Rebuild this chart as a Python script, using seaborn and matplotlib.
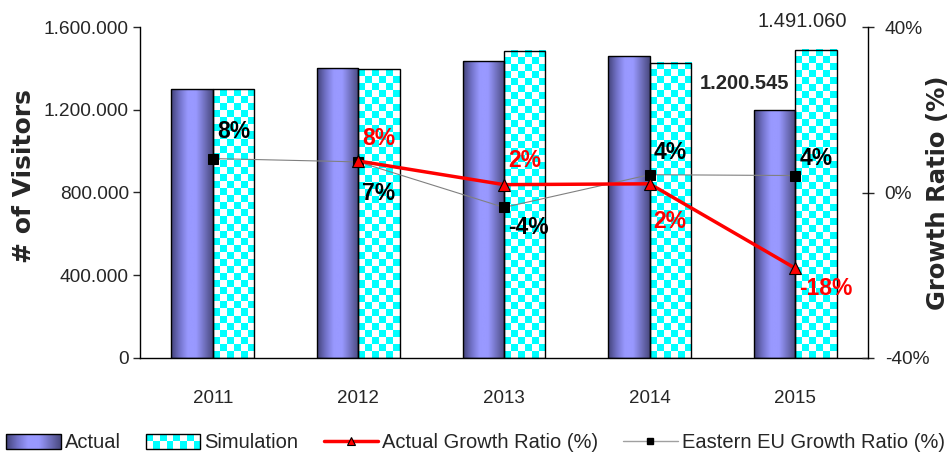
import numpy as np
import pandas as pd
import seaborn as sns
import matplotlib.pyplot as plt
from matplotlib.colors import LinearSegmentedColormap, ListedColormap
from matplotlib.lines import Line2D
from matplotlib.patches import Patch
from matplotlib.ticker import FuncFormatter

years = ['2011', '2012', '2013', '2014', '2015']
actual = [1301000, 1403000, 1435000, 1459000, 1200545]
simulation = [1300000, 1395000, 1485000, 1427000, 1491060]
actual_growth = [np.nan, 7.6, 1.9, 2.1, -18.3]
eastern_growth = [8.2, 7.4, -3.6, 4.3, 4.1]

# where the growth labels sit, pixels above (+) / below (-) the marker
actual_label_dy = [0, 23, 24, -38, -20]
eastern_label_dy = [27, -32, -20, 22, 17]

sns.set_style('white')
plt.rcParams['font.family'] = ['Liberation Sans', 'DejaVu Sans']
title_font = dict(family=['DejaVu Sans'], fontweight='bold')

W, H = 951, 457
fig, ax = plt.subplots(figsize=(W / 100, H / 100), dpi=100)
fig.subplots_adjust(left=140 / W, right=868 / W, top=1 - 27 / H, bottom=1 - 358 / H)

df = pd.DataFrame({
    'year': years * 2,
    'series': ['Actual'] * len(years) + ['Simulation'] * len(years),
    'visitors': actual + simulation,
})
sns.barplot(data=df, x='year', y='visitors', hue='series',
            palette=['#9999FF', '#00FFFF'], saturation=1, width=0.57, gap=0,
            edgecolor='black', linewidth=1, errorbar=None, legend=False, ax=ax)

ax.set_xlim(-0.5, len(years) - 0.5)
ax.set_ylim(0, 1600000)

cyl = LinearSegmentedColormap.from_list(
    'cyl', ['#43437a', '#7272c8', '#9999ff', '#9999ff', '#7272c0', '#4a4a80'])
grad = np.linspace(0, 1, 64).reshape(1, -1)
checker = ListedColormap(['#00FFFF', '#FFFFFF'])

bars = list(ax.patches)
n = len(years)
for bar in bars[:n]:
    x0, y0, w, h = bar.get_x(), bar.get_y(), bar.get_width(), bar.get_height()
    im = ax.imshow(grad, cmap=cyl, extent=(x0, x0 + w, y0, y0 + h),
                   aspect='auto', interpolation='bicubic', zorder=1)
    im.set_clip_path(bar)
    bar.set_facecolor('none')
    bar.set_zorder(2)

cell = 7
for bar in bars[n:2 * n]:
    x0, y0, w, h = bar.get_x(), bar.get_y(), bar.get_width(), bar.get_height()
    (px0, py0), (px1, py1) = ax.transData.transform([(x0, y0), (x0 + w, y0 + h)])
    nx = max(1, int(round((px1 - px0) / cell)))
    ny = max(1, int(round((py1 - py0) / cell)))
    board = np.add.outer(np.arange(ny), np.arange(nx)) % 2
    ax.imshow(board, cmap=checker, extent=(x0, x0 + w, y0 + h, y0),
              aspect='auto', interpolation='nearest', zorder=1)
    bar.set_facecolor('none')
    bar.set_zorder(2)

ax.set_xlim(-0.5, len(years) - 0.5)
ax.set_ylim(0, 1600000)

# value labels on the last year
fmt = lambda v: f'{v:,.0f}'.replace(',', '.')
b = bars[2 * n - 1]
ax.annotate(fmt(simulation[-1]), (b.get_x() + b.get_width() / 2, b.get_height()),
            xytext=(-14, 28), textcoords='offset pixels', ha='center', va='center',
            fontsize=14.5, annotation_clip=False)
b = bars[n - 1]
ax.annotate(fmt(actual[-1]), (b.get_x() + b.get_width(), b.get_height()),
            xytext=(-6, 26), textcoords='offset pixels', ha='right', va='center',
            fontsize=14.5, fontweight='bold', annotation_clip=False)

ax.yaxis.set_major_formatter(FuncFormatter(lambda v, p: fmt(v)))
ax.set_yticks([0, 400000, 800000, 1200000, 1600000])
ax.tick_params(axis='y', direction='out', length=5, width=1, pad=3, labelsize=13.8)
ax.set_xticks(np.arange(-0.5, n, 1), minor=True)
ax.tick_params(axis='x', which='major', length=0, pad=23, labelsize=13.5)
ax.tick_params(axis='x', which='minor', direction='out', length=6, width=1)
ax.set_xlabel('')
ax.set_ylabel('# of Visitors', fontsize=18, **title_font)
ax.yaxis.set_label_coords(-0.143, 0.55)
for s in ['left', 'bottom']:
    ax.spines[s].set_color('black')
    ax.spines[s].set_linewidth(1)
ax.spines['top'].set_visible(False)
ax.spines['right'].set_visible(False)

# growth ratios on the secondary axis
ax2 = ax.twinx()
xs = np.arange(n)
sns.lineplot(x=xs, y=eastern_growth, ax=ax2, color='#808080', linewidth=0.8,
             marker='s', markersize=7, markerfacecolor='black', markeredgecolor='black')
sns.lineplot(x=xs, y=actual_growth, ax=ax2, color='#FF0000', linewidth=2.5,
             marker='^', markersize=8, markerfacecolor='#FF0000',
             markeredgecolor='black', markeredgewidth=0.8)
ax2.set_ylim(-40, 40)
ax2.set_yticks([-40, 0, 40])
ax2.yaxis.set_major_formatter(FuncFormatter(lambda v, p: f'{v:.0f}%'))
ax2.tick_params(axis='y', direction='inout', length=8, width=1, pad=8, labelsize=13.8)
ax2.set_ylabel('Growth Ratio (%)', fontsize=17.5, **title_font)
ax2.yaxis.set_label_coords(1.079, 0.5)
for s in ['top', 'left', 'bottom']:
    ax2.spines[s].set_visible(False)
ax2.spines['right'].set_color('black')
ax2.spines['right'].set_linewidth(1)

for i in range(n):
    if not np.isnan(actual_growth[i]):
        ax2.annotate(f'{actual_growth[i]:.0f}%', (xs[i], actual_growth[i]),
                     xytext=(4, actual_label_dy[i]), textcoords='offset pixels',
                     ha='left', va='center', fontsize=16.5, fontweight='bold', color='#FF0000')
    ax2.annotate(f'{eastern_growth[i]:.0f}%', (xs[i], eastern_growth[i]),
                 xytext=(4, eastern_label_dy[i]), textcoords='offset pixels',
                 ha='left', va='center', fontsize=16.5, fontweight='bold', color='black')

handles = [
    Patch(facecolor='none', edgecolor='black', label='Actual'),
    Patch(facecolor='none', edgecolor='black', label='Simulation'),
    Line2D([], [], color='#FF0000', lw=2.5, marker='^', ms=6, mfc='#FF0000',
           mec='black', mew=0.8, label='Actual Growth Ratio (%)'),
    Line2D([], [], color='#A0A0A0', lw=1, marker='s', ms=5, mfc='black',
           mec='black', label='Eastern EU Growth Ratio (%)'),
]
leg = fig.legend(handles=handles, loc='center', bbox_to_anchor=(0.5, 1 - 443 / H),
                 ncol=4, frameon=False, fontsize=14.5, handlelength=2.7,
                 handleheight=0.7, columnspacing=1.25, handletextpad=0.2)

fig.canvas.draw()
kinds = ['grad', 'checker']
for patch, kind in zip(leg.get_patches(), kinds):
    bb = patch.get_window_extent()
    lax = fig.add_axes([bb.x0 / W, bb.y0 / H, bb.width / W, bb.height / H], zorder=-1)
    if kind == 'grad':
        lax.imshow(grad, cmap=cyl, aspect='auto', interpolation='bicubic')
    else:
        nx = max(1, int(round(bb.width / cell)))
        ny = max(1, int(round(bb.height / cell)))
        lax.imshow(np.add.outer(np.arange(ny), np.arange(nx)) % 2, cmap=checker,
                   aspect='auto', interpolation='nearest')
    lax.axis('off')

fig.savefig('out.png', dpi=100)
